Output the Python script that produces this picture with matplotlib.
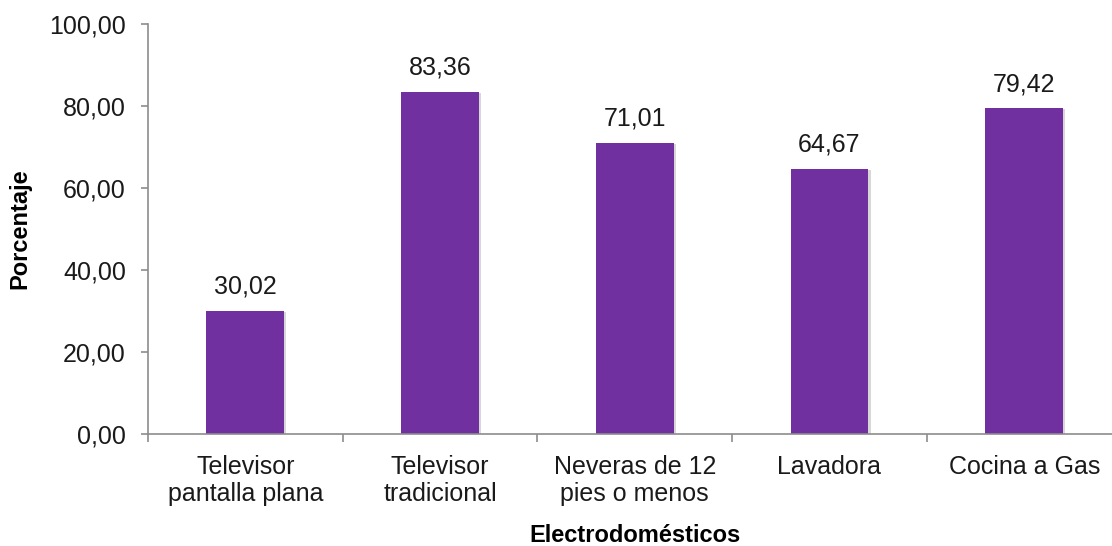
import numpy as np
import matplotlib.pyplot as plt
import matplotlib.patheffects as pe
from matplotlib.ticker import FuncFormatter, FixedLocator

plt.rcParams['font.family'] = ['Liberation Sans', 'DejaVu Sans']

categorias = ['Televisor\npantalla plana', 'Televisor\ntradicional',
              'Neveras de 12\npies o menos', 'Lavadora', 'Cocina a Gas']
porcentajes = [30.02, 83.36, 71.01, 64.67, 79.42]

color_barra = '#7030A0'
color_eje = '#8c8c8c'
color_texto = '#1a1a1a'

fig = plt.figure(figsize=(11.12, 5.46), dpi=100)
ax = fig.add_axes([0.1331, 0.2051, 0.8755, 0.7509])

x = np.arange(len(categorias))
barras = ax.bar(x, porcentajes, width=0.4, color=color_barra, zorder=3)
# sombra suave a la derecha de cada barra
for b in barras:
    b.set_path_effects([pe.SimplePatchShadow(offset=(1.5, -0.5), shadow_rgbFace='#b0b0b0', alpha=0.5),
                        pe.Normal()])

# etiquetas de valor con coma decimal
for xi, v in zip(x, porcentajes):
    ax.text(xi, v + 3.0, f"{v:.2f}".replace('.', ','), ha='center', va='bottom',
            fontsize=18, color=color_texto)

ax.set_xlim(-0.5, len(categorias) - 0.5)
ax.set_ylim(0, 100)
ax.set_yticks(np.arange(0, 101, 20))
ax.yaxis.set_major_formatter(FuncFormatter(lambda v, p: f"{v:.2f}".replace('.', ',')))

ax.set_xticks(x)
ax.set_xticklabels(categorias, fontsize=18, color=color_texto, linespacing=1.15)
ax.xaxis.set_minor_locator(FixedLocator(np.arange(-0.5, len(categorias), 1.0)))
ax.tick_params(axis='x', which='major', length=0, pad=15)
ax.tick_params(axis='x', which='minor', length=6, width=1.2, color=color_eje)
ax.tick_params(axis='y', length=5, width=1.2, color=color_eje, pad=11,
               labelsize=18, labelcolor=color_texto)

for lado in ['top', 'right']:
    ax.spines[lado].set_visible(False)
for lado in ['left', 'bottom']:
    ax.spines[lado].set_color(color_eje)
    ax.spines[lado].set_linewidth(1.2)
    ax.spines[lado].set_zorder(4)

ax.set_ylabel('Porcentaje', fontsize=17, fontweight='bold', labelpad=13)
ax.set_xlabel('Electrodomésticos', fontsize=17, fontweight='bold', labelpad=13)

fig.savefig('out.png', dpi=100)
